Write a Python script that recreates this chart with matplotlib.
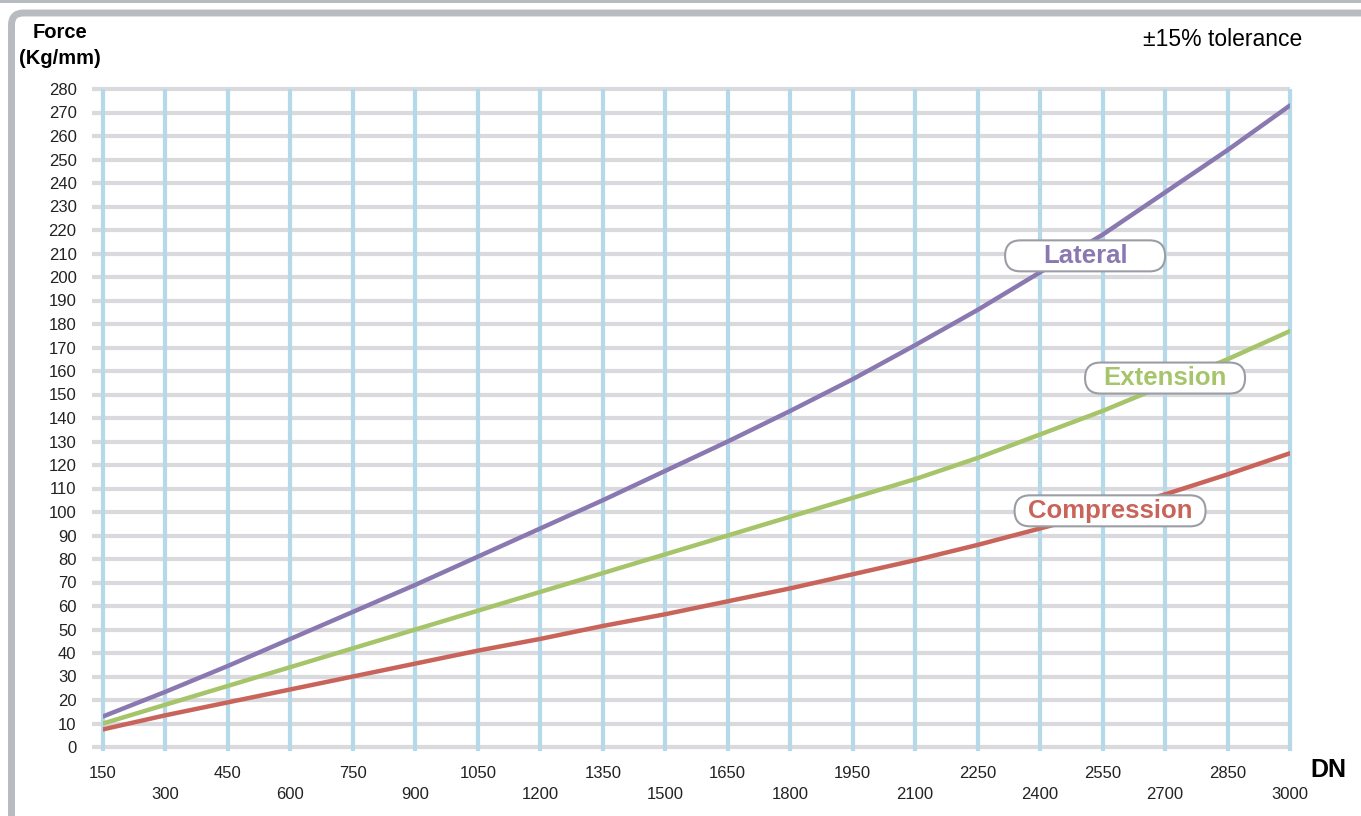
import matplotlib.pyplot as plt
import matplotlib.transforms as mtransforms
from matplotlib.patches import FancyBboxPatch, Rectangle

# Data
dn = [150, 300, 450, 600, 750, 900, 1050, 1200, 1350, 1500,
      1650, 1800, 1950, 2100, 2250, 2400, 2550, 2700, 2850, 3000]
lateral = [13, 23.5, 34.5, 46, 57.5, 69, 81, 93, 105, 117.5,
           130, 143, 156.5, 171, 186, 202, 218, 236, 254, 273]
extension = [10, 18, 26, 34, 42, 50, 58, 66, 74, 82,
             90, 98, 106, 114, 123, 133, 143, 154, 165, 177]
compression = [7.5, 13.5, 19, 24.5, 30, 35.5, 41, 46, 51.5, 56.5,
               62, 67.5, 73.5, 79.5, 86, 93, 100, 107.5, 116, 125]
y_ticks = list(range(0, 290, 10))

purple = "#8a78b0"
green = "#a6c46a"
red = "#c8645a"

plt.rcParams['font.family'] = ['Liberation Sans', 'DejaVu Sans']

fig = plt.figure(figsize=(13.61, 8.16), dpi=100)
ax = fig.add_axes([103 / 1361, 1 - 747 / 816, (1290 - 103) / 1361, (747 - 89) / 816])
ax.set_xlim(150, 3000)
ax.set_ylim(0, 280)
for s in ax.spines.values():
    s.set_visible(False)

# grid lines
ax.hlines(y_ticks, 124, 3000, colors="#d9d9de", lw=3, clip_on=False, zorder=1)
ax.vlines(dn, -1.5, 280, colors="#b5d9e8", lw=3, clip_on=False, zorder=2)

# series
ax.plot(dn, lateral, color=purple, lw=3.2, solid_capstyle='round', zorder=3)
ax.plot(dn, extension, color=green, lw=3.2, solid_capstyle='round', zorder=3)
ax.plot(dn, compression, color=red, lw=3.2, solid_capstyle='round', zorder=3)

# ticks
ax.set_yticks(y_ticks)
ax.set_yticklabels([str(v) for v in y_ticks])
ax.tick_params(axis='y', length=0, pad=19, labelsize=12, labelcolor="#222222")
ax.set_xticks(dn[0::2])
ax.set_xticklabels([str(v) for v in dn[0::2]])
ax.set_xticks(dn[1::2], minor=True)
ax.set_xticklabels([str(v) for v in dn[1::2]], minor=True)
ax.tick_params(axis='x', which='major', length=0, pad=14, labelsize=12, labelcolor="#222222")
ax.tick_params(axis='x', which='minor', length=0, pad=29, labelsize=12, labelcolor="#222222")

# label boxes
labels = [("Lateral", 2508, 209, 1.60, purple),
          ("Extension", 2700, 157, 1.60, green),
          ("Compression", 2568, 100.5, 1.91, red)]
for text, x, y, w, c in labels:
    trans = fig.dpi_scale_trans + mtransforms.ScaledTranslation(x, y, ax.transData)
    box = FancyBboxPatch((-w / 2, -0.155), w, 0.31,
                         boxstyle="round,pad=0,rounding_size=0.155",
                         transform=trans, facecolor="white", edgecolor="#9a9ea4",
                         lw=1.5, zorder=5, clip_on=False)
    ax.add_artist(box)
    ax.text(x, y, text, color=c, fontsize=18.5, fontweight='bold',
            ha='center', va='center', zorder=6)

# texts
fig.text(60 / 1361, 1 - 33 / 816, "Force", fontsize=14.5, fontweight='bold',
         ha='center', va='center')
fig.text(60 / 1361, 1 - 58 / 816, "(Kg/mm)", fontsize=14.5, fontweight='bold',
         ha='center', va='center')
fig.text(1328 / 1361, 1 - 770 / 816, "DN", fontsize=18, fontweight='bold',
         ha='center', va='center')
fig.text(1223 / 1361, 1 - 39 / 816, "±15% tolerance", fontsize=16.5,
         ha='center', va='center')

# frame
fig.add_artist(Rectangle((0, 8.13), 13.61, 0.05, transform=fig.dpi_scale_trans,
                         facecolor="#b8bcc0", edgecolor='none'))
fig.add_artist(FancyBboxPatch((0.115, -0.5), 14.0, 8.53,
                              boxstyle="round,pad=0,rounding_size=0.12",
                              transform=fig.dpi_scale_trans, facecolor='none',
                              edgecolor="#b8bcc0", lw=5))

fig.savefig("out.png", dpi=100)
